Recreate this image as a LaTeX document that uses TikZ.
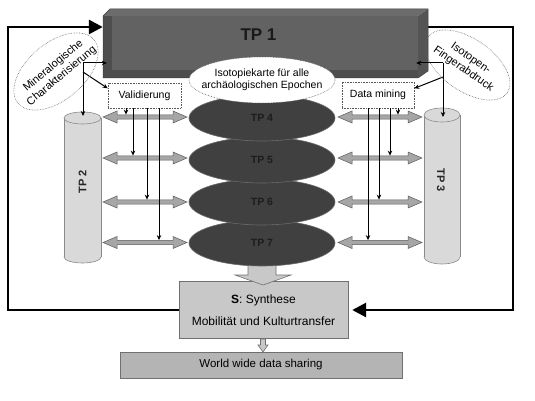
\documentclass[tikz,border=0pt]{standalone}
\usepackage{fontspec}
\setmainfont{Liberation Sans}
\usetikzlibrary{arrows.meta,shapes.geometric,calc}
\definecolor{tpfill}{HTML}{404040}
\definecolor{tpedge}{HTML}{6A6A6A}
\definecolor{tptext}{HTML}{1C1C1C}
\definecolor{cylfill}{HTML}{D9D9D9}
\definecolor{cyledge}{HTML}{8A8A8A}
\definecolor{dblfill}{HTML}{A6A6A6}
\definecolor{dbledge}{HTML}{5A5A5A}
\definecolor{sfill}{HTML}{C8C8C8}
\definecolor{sedge}{HTML}{707070}
\definecolor{wfill}{HTML}{B4B4B4}
\definecolor{bandc}{HTML}{4E4E4E}
\definecolor{innerc}{HTML}{626262}
\definecolor{topc}{HTML}{6C6C6C}
\definecolor{rightc}{HTML}{545454}
\begin{document}
\begin{tikzpicture}[x=1pt,y=-1pt,
  loopline/.style={line width=2.8pt,line join=miter},
  bigtip/.style={-{Triangle[length=14pt,width=14pt]}},
  thinarr/.style={line width=1pt,-{Stealth[length=5pt,width=4.5pt]}},
  dotbox/.style={draw=black!65,densely dotted,line width=0.6pt,fill=white,inner sep=0pt,font=\fontsize{10.5}{12.6}\selectfont},
  tpell/.style={ellipse,fill=tpfill,draw=tpedge,line width=0.6pt,minimum width=146pt,minimum height=46pt,inner sep=0pt,font=\bfseries\fontsize{10.5}{12}\selectfont,text=tptext},
  dotell/.style={ellipse,draw=black!60,densely dotted,line width=0.6pt,inner sep=0pt},
  elltext/.style={align=center,inner sep=0pt,font=\fontsize{11}{13}\selectfont},
  dblarrow/.style={fill=dblfill,draw=dbledge,line width=0.5pt,line join=miter},
  blockarr/.style={fill=sfill,draw=sedge,line width=0.6pt,line join=miter},
  cyltext/.style={font=\bfseries\fontsize{11}{13}\selectfont,text=black!85}
]
\fill[white] (0,0) rectangle (535,401);
\useasboundingbox (0,0) rectangle (535,401);

% TP1 anchor node (front face)
\node[minimum width=315pt,minimum height=62pt,inner sep=0pt] (TP1) at (260.5,47) {};

% feedback loops
\coordinate (lc) at (8,27);
\coordinate (rc) at (513,27);
\node[draw=sedge,fill=sfill,minimum width=169pt,minimum height=57pt,align=center,inner sep=0pt,
      font=\fontsize{12}{14.4}\selectfont] (S) at (263.5,310) {};
\draw[loopline,bigtip] (S.west) -| (lc) -- (TP1.west |- lc);
\draw[loopline,bigtip,shorten >=4pt] (TP1.east |- rc) -| (rc |- S.east) -- (S.east);

% TP1 box
\fill[bandc] (103,16) rectangle (418,78);
\fill[innerc] (112,16) rectangle (418,70);
\fill[topc] (103,16) -- (110,9) -- (428,9) -- (418,16) -- cycle;
\fill[rightc] (418,16) -- (428,9) -- (428,71) -- (418,78) -- cycle;
\draw[black!75,line width=0.5pt,line join=round] (103,16) -- (110,9) -- (428,9) -- (428,71) -- (418,78) -- (103,78) -- cycle;
\node[font=\bfseries\fontsize{17}{20}\selectfont,text=black!90] (TP1label) at (258.5,34.5) {TP 1};

% big block arrow to S
\filldraw[blockarr] (248,262) -- (276,262) -- (276,275) -- (291,275) -- (263,285) -- (235,275) -- (248,275) -- cycle;

% TP ellipses
\node[tpell] (TP7) at (262,243) {TP 7};
\node[tpell] (TP6) at (262,202) {TP 6};
\node[tpell] (TP5) at (262,160) {TP 5};
\node[tpell] (TP4) at (262,118) {TP 4};

\node[ellipse,fill=white,draw=black!60,densely dotted,line width=0.6pt,minimum width=146pt,minimum height=46pt,
      inner sep=0pt] (IK) at (262,80) {};
\node[align=center,inner sep=0pt,font=\fontsize{10.5}{12}\selectfont] (IKtext) at (IK.center)
      {Isotopiekarte für alle\\archäologischen Epochen};

% cylinders
\fill[cylfill,draw=cyledge,line width=0.6pt] (82.5,257) ellipse (18.5 and 6);
\fill[cylfill] (64,118) rectangle (101,257);
\draw[cyledge,line width=0.6pt] (64,118) -- (64,257) (101,118) -- (101,257);
\filldraw[fill=cylfill,draw=cyledge,line width=0.6pt] (82.5,118) ellipse (18.5 and 6);
\node[cyltext,rotate=90] (TP2) at (82.5,182) {TP 2};
\coordinate (TP2top) at (83,116);

\fill[cylfill,draw=cyledge,line width=0.6pt] (442,257) ellipse (18 and 7);
\fill[cylfill] (424,115) rectangle (460,257);
\draw[cyledge,line width=0.6pt] (424,115) -- (424,257) (460,115) -- (460,257);
\filldraw[fill=cylfill,draw=cyledge,line width=0.6pt] (442,115) ellipse (18 and 7);
\node[cyltext,rotate=-90] (TP3) at (441,180) {TP 3};
\coordinate (TP3top) at (443,117);

% Validierung / Data mining
\node[dotbox,minimum width=73pt,minimum height=25pt] (Valid) at (144.5,95.5) {Validierung};
\node[dotbox,minimum width=72pt,minimum height=26pt] (DM) at (378,95) {Data mining};

% double arrows
\foreach \y in {117,158,202,242.5}{
  \foreach \xa/\xb in {103/187,338/422}{
    \filldraw[dblarrow] (\xa,\y) -- (\xa+14,\y-6) -- (\xa+14,\y-2.2) -- (\xb-14,\y-2.2) -- (\xb-14,\y-6)
      -- (\xb,\y) -- (\xb-14,\y+6) -- (\xb-14,\y+2.2) -- (\xa+14,\y+2.2) -- (\xa+14,\y+6) -- cycle;
  }
}

% vertical arrows
\foreach \x/\y in {126/117,133/158,147/202,159/242.5}{
  \draw[thinarr] (\x,0 |- Valid.south) -- (\x,\y-2.4);
}
\foreach \x/\y in {398/117,390/158,379/202,368/242.5}{
  \draw[thinarr] (\x,0 |- DM.south) -- (\x,\y-2.4);
}

% junction connectors
\coordinate (jl) at (83,63);
\coordinate (jl2) at (83,72);
\draw[line width=1pt] (jl) -- (jl2);
\draw[thinarr,shorten >=-4pt] (jl) -- (TP1.west |- jl);
\draw[thinarr] (jl2) -- (TP2top);
\draw[thinarr] (jl2) -- ($(Valid.north west)!0.22!(Valid.south west)$);

\coordinate (jr) at (443,63);
\coordinate (jr2) at (443,77);
\draw[thinarr,shorten >=-2pt] (jr) -- (TP1.east |- jr);
\draw[thinarr] (jr) -- (TP3top);
\draw[thinarr] (jr2) -- ($(DM.north east)!0.25!(DM.south east)$);

% side ellipses
\node[dotell,minimum width=99pt,minimum height=57pt,rotate=40] (Min) at (56,71.5) {};
\node[elltext,rotate=40] (MinT) at (57.5,71) {Mineralogische\\Charakterisierung};
\node[dotell,minimum width=97pt,minimum height=52pt,rotate=-35] (Iso) at (467.5,65) {};
\node[elltext,rotate=-35] (IsoT) at (467,64) {Isotopen-\\Fingerabdruck};

% S box text
\node[align=center,font=\fontsize{12}{14.4}\selectfont] (Stext) at (S.center) {\textbf{S}: Synthese\\[7.5pt]Mobilität und Kulturtransfer};

% World wide
\filldraw[blockarr] (260.5,339) -- (265.5,339) -- (265.5,345) -- (268,345) -- (263,352) -- (258,345) -- (260.5,345) -- cycle;
\node[draw=sedge,fill=wfill,line width=0.6pt,minimum width=282pt,minimum height=26pt,inner sep=0pt,
      font=\fontsize{11.5}{13.8}\selectfont] (W) at (261,365) {World wide data sharing};
\end{tikzpicture}
\end{document}
